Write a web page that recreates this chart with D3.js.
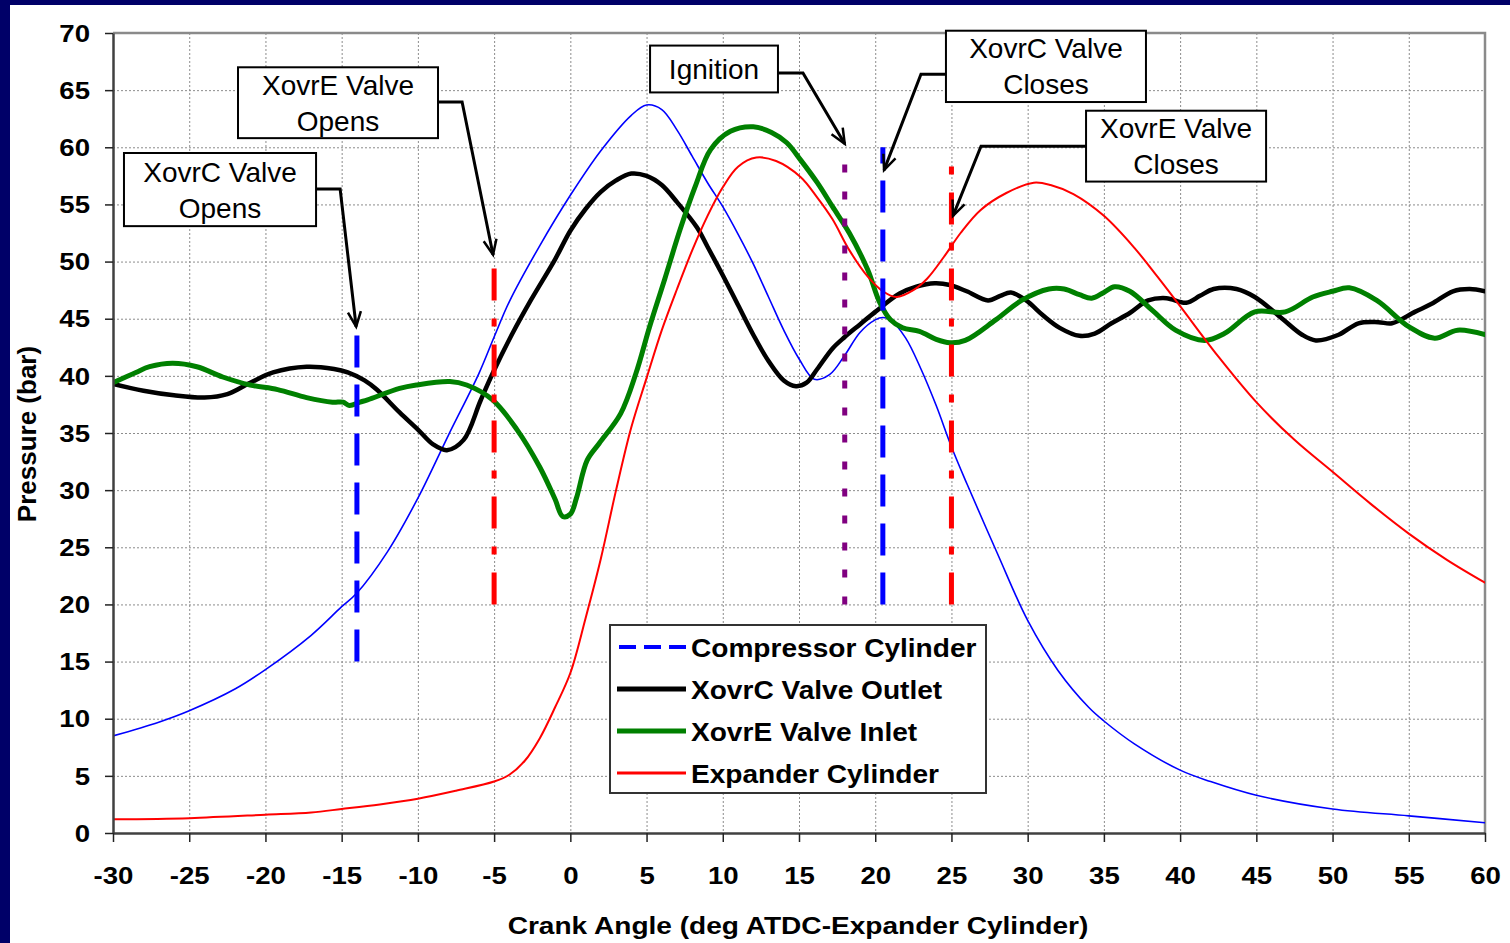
<!DOCTYPE html>
<html><head><meta charset="utf-8">
<script src="https://cdn.jsdelivr.net/npm/d3@7"></script>
<style>
html,body{margin:0;padding:0;background:#fff;}
svg{display:block;}
</style></head><body>
<svg id="chart" width="1510" height="943"></svg>
<script>
// ---------------- DATA ----------------
const xTickValues = [-30,-25,-20,-15,-10,-5,0,5,10,15,20,25,30,35,40,45,50,55,60];
const yTickValues = [0,5,10,15,20,25,30,35,40,45,50,55,60,65,70];

const seriesNames = ["Compressor Cylinder","XovrC Valve Outlet","XovrE Valve Inlet","Expander Cylinder"];

const compAngle = [-30,-27,-25,-22,-20,-17,-15,-14,-12,-10,-8,-6,-5,-4,-2,0,2,4,5,6,7,8,9,10,11,12,13,14,15,16,17,18,19,20,20.5,21,22,23,24,25,26,28,30,32,34,35,37,40,42,45,50,55,60];
const compPressure = [8.5,9.7,10.7,12.6,14.3,17.3,19.8,21.0,24.6,29.3,34.8,40.2,43.4,46.5,51.4,55.8,59.7,62.8,63.7,63.3,61.5,59.2,56.9,54.8,52.4,49.8,46.9,44.0,41.5,39.7,40.1,41.8,43.8,44.9,45.1,44.9,43.3,40.6,37.4,33.8,30.6,24.5,18.6,14.2,11.0,9.8,7.8,5.5,4.5,3.3,2.1,1.5,0.9];

const xovrCAngle = [-30,-28,-26,-24,-22.5,-21,-19.5,-17.3,-15.5,-14.6,-13.5,-12.7,-11.2,-10,-9,-8.1,-7,-5.9,-5.1,-3.8,-2.6,-1,0,1,2,3,4,5,6,7,8.3,9,10,11,12,13,14,14.8,15.5,16.2,17.2,18,19,20,21.6,22.7,23.9,24.9,26,27.4,28.2,28.9,29.9,31,32.1,33.4,34.4,35.5,36.7,37.9,39.1,40.4,41.3,42.2,43.7,44.9,46.7,48,48.9,50.4,51.7,53,53.9,55.4,56.5,57.9,59,60];
const xovrCPressure = [39.3,38.7,38.3,38.1,38.4,39.4,40.3,40.8,40.6,40.3,39.6,38.8,36.8,35.3,34.0,33.5,34.4,37.8,40.2,43.7,46.6,50.2,52.7,54.6,56.1,57.1,57.7,57.5,56.7,55.2,53.0,51.3,48.8,46.2,43.6,41.3,39.6,39.1,39.4,40.6,42.4,43.4,44.5,45.6,47.2,47.8,48.1,47.95,47.4,46.6,47.0,47.3,46.6,45.3,44.2,43.5,43.7,44.6,45.5,46.6,46.8,46.4,47.0,47.6,47.6,46.9,45.0,43.6,43.1,43.6,44.6,44.7,44.6,45.6,46.3,47.4,47.6,47.4];

const xovrEAngle = [-30,-28.5,-27.6,-26.1,-24.5,-22.8,-21,-19.2,-17.3,-15.6,-14.9,-14.5,-13.8,-13.3,-11.2,-10.1,-7.9,-6.8,-5.1,-3.5,-2,-1,-0.5,0,0.4,1.1,1.9,3.3,4.3,5.2,6.2,7.2,8.2,9.2,10.5,12,13.2,14.2,15.1,16.2,17.2,18.3,19.5,20.3,21,21.8,22.9,24,24.9,25.9,27.9,29.6,31.4,32.4,33.4,34.2,35,35.7,36.7,38.2,39.7,41.6,42.9,44.9,46.9,48.7,50,51.1,52.9,55,56.7,58.2,60];
const xovrEPressure = [39.4,40.3,40.8,41.1,40.8,39.9,39.2,38.8,38.1,37.7,37.7,37.4,37.7,37.9,38.9,39.2,39.5,39.2,37.9,35.3,32.0,29.2,27.7,27.9,29.3,32.6,34.1,36.7,40.2,44.3,48.5,52.8,56.6,59.8,61.4,61.8,61.3,60.4,58.9,56.9,54.8,52.5,49.3,46.4,44.9,44.2,43.9,43.2,42.9,43.1,44.9,46.6,47.6,47.6,47.1,46.8,47.3,47.8,47.4,45.7,44.0,43.1,43.7,45.6,45.6,46.9,47.4,47.7,46.6,44.3,43.3,44.0,43.6];

const expAngle = [-30,-25,-20,-17,-15,-12.5,-10,-7.5,-5,-4,-3,-2,-1,0,1,2,3,4,5,6,7,8,9,10,11,12.2,13.5,15.1,16.2,17.2,18.3,19.5,20.5,21.4,22.5,23.4,24.5,25.6,26.9,28.6,30.4,31.5,33,35,37,38.5,40,42.5,45,47.5,50,52.5,55,57.5,60];
const expPressure = [1.2,1.3,1.6,1.8,2.1,2.5,3.0,3.7,4.5,5.1,6.3,8.3,11.0,14.0,18.8,24.0,30.0,35.5,39.8,44.0,47.6,51.0,54.0,56.5,58.3,59.1,58.8,57.4,55.6,53.7,51.0,48.7,47.4,46.9,47.5,48.5,50.4,52.5,54.5,56.0,56.9,56.7,55.9,54.0,51.2,48.7,46.1,41.7,37.7,34.4,31.6,28.8,26.2,23.9,21.9];

// event markers (vertical lines)
const markerAngle = [-14, -5, 18, 20.5, 25];
const markerLow   = [15, 20, 20, 20, 20];
const markerHigh  = [44, 50, 58.5, 60, 58.5];
const markerKind  = ["xovrC","xovrE","ignition","xovrC","xovrE"];

// callouts
const calloutText = [["XovrC Valve","Opens"],["XovrE Valve","Opens"],["Ignition"],["XovrC Valve","Closes"],["XovrE Valve","Closes"]];

// ---------------- LAYOUT / STYLE ----------------
const W = 1510, H = 943;
const plot = {left:113, right:1485, top:33, bottom:833};
const FONT = '"Liberation Sans", Arial, Helvetica, sans-serif';
const NAVY = '#000068';
const SX = 1.15;

// callout geometry in data units: [x0, x1, yTop, yBottom] and leader path
const calloutBox = [[-29.28,-16.68,59.5,53.1],[-21.8,-8.68,67.0,60.8],[5.23,13.62,68.9,64.8],[24.64,37.76,70.2,63.96],[33.83,45.64,63.2,57.0]];
const calloutPath = [
  [[-16.68,56.35],[-15.1,56.35],[-14.05,44.3]],
  [[-8.68,63.96],[-7.1,63.96],[-5.07,50.6]],
  [[13.62,66.5],[15.26,66.5],[18.0,60.3]],
  [[24.64,66.4],[23.0,66.4],[20.58,58.0]],
  [[33.83,60.1],[26.94,60.1],[25.1,54.0]]
];

const markerStyle = {
  xovrC:{color:'#0000ff', dash:'32,17'},
  xovrE:{color:'#ff0000', dash:'32,18,8,18'},
  ignition:{color:'#800080', dash:'8,19'}
};

const seriesStyle = [
  {color:'#0000ff', width:1.6, legendWidth:4, legendDash:'17,8'},
  {color:'#000000', width:4.5, legendWidth:5, legendDash:null},
  {color:'#008000', width:5, legendWidth:5, legendDash:null},
  {color:'#ff0000', width:2, legendWidth:3, legendDash:null}
];
const seriesData = [
  d3.zip(compAngle, compPressure),
  d3.zip(xovrCAngle, xovrCPressure),
  d3.zip(xovrEAngle, xovrEPressure),
  d3.zip(expAngle, expPressure)
];

// ---------------- DRAW ----------------
const x = d3.scaleLinear().domain([-30,60]).range([plot.left, plot.right]);
const y = d3.scaleLinear().domain([0,70]).range([plot.bottom, plot.top]);
const svg = d3.select('#chart');

svg.append('rect').attr('width',W).attr('height',H).attr('fill','#fff');
svg.append('rect').attr('x',0).attr('y',0).attr('width',W).attr('height',5).attr('fill',NAVY);
svg.append('rect').attr('x',0).attr('y',0).attr('width',10).attr('height',H).attr('fill',NAVY);

const defs = svg.append('defs');
defs.append('clipPath').attr('id','plotclip').append('rect')
  .attr('x',plot.left).attr('y',plot.top).attr('width',plot.right-plot.left).attr('height',plot.bottom-plot.top);
defs.append('marker').attr('id','arrow').attr('markerUnits','userSpaceOnUse')
  .attr('viewBox','-20 -10 24 20').attr('refX',0).attr('refY',0)
  .attr('markerWidth',24).attr('markerHeight',20).attr('orient','auto')
  .append('path').attr('d','M-15,-6.5L0,0L-15,6.5').attr('fill','none')
  .attr('stroke','#000').attr('stroke-width',2.5);

// grid
const grid = svg.append('g');
grid.selectAll('line.gv').data(xTickValues).join('line').attr('class','gv')
  .attr('x1',d=>x(d)+0.5).attr('x2',d=>x(d)+0.5).attr('y1',plot.top).attr('y2',plot.bottom)
  .attr('stroke','#8c8c8c').attr('stroke-width',1).attr('stroke-dasharray','2,2');
grid.selectAll('line.gh').data(yTickValues).join('line').attr('class','gh')
  .attr('y1',d=>y(d)+0.5).attr('y2',d=>y(d)+0.5).attr('x1',plot.left).attr('x2',plot.right)
  .attr('stroke','#8c8c8c').attr('stroke-width',1).attr('stroke-dasharray','2,2');

// top & right border
svg.append('path').attr('d',`M${plot.left},${plot.top}H${plot.right}V${plot.bottom}`)
  .attr('fill','none').attr('stroke','#8a8a8a').attr('stroke-width',2.5);

// series
const line = d3.line().x(d=>x(d[0])).y(d=>y(d[1])).curve(d3.curveCatmullRom.alpha(0.5));
const gSeries = svg.append('g').attr('clip-path','url(#plotclip)');
gSeries.selectAll('path').data(seriesData).join('path')
  .attr('d',line).attr('fill','none')
  .attr('stroke',(d,i)=>seriesStyle[i].color)
  .attr('stroke-width',(d,i)=>seriesStyle[i].width)
  .attr('stroke-linejoin','round').attr('stroke-linecap','round');

// event markers
const markers = d3.range(markerAngle.length).map(i=>({a:markerAngle[i], lo:markerLow[i], hi:markerHigh[i], k:markerKind[i]}));
svg.append('g').selectAll('line').data(markers).join('line')
  .attr('x1',d=>x(d.a)).attr('x2',d=>x(d.a))
  .attr('y1',d=>y(d.lo)).attr('y2',d=>y(d.hi))
  .attr('stroke',d=>markerStyle[d.k].color).attr('stroke-width',5)
  .attr('stroke-dasharray',d=>markerStyle[d.k].dash);

// axes
const fmt = d => String(d);
const gy = svg.append('g').attr('transform',`translate(${plot.left},0)`)
  .call(d3.axisLeft(y).tickValues(yTickValues).tickFormat(fmt).tickSize(8).tickSizeOuter(0));
gy.select('.domain').attr('stroke','#404040').attr('stroke-width',2.5);
gy.selectAll('.tick line').attr('stroke','#222').attr('stroke-width',1.5);
gy.selectAll('.tick text').attr('x',-23/SX).attr('dy','0.34em')
  .attr('transform',`scale(${SX},1)`)
  .attr('font-size',24).attr('font-weight','bold').attr('font-family',FONT).attr('fill','#000');

const gx = svg.append('g').attr('transform',`translate(0,${plot.bottom})`)
  .call(d3.axisBottom(x).tickValues(xTickValues).tickFormat(fmt).tickSize(9).tickSizeOuter(0));
gx.select('.domain').attr('stroke','#404040').attr('stroke-width',2.5);
gx.selectAll('.tick line').attr('stroke','#222').attr('stroke-width',1.5);
gx.selectAll('.tick text').attr('y',51).attr('dy',0)
  .attr('transform',`scale(${SX},1)`)
  .attr('font-size',24).attr('font-weight','bold').attr('font-family',FONT).attr('fill','#000');

// axis titles
svg.append('text').attr('transform',`translate(798,934) scale(1.17,1)`)
  .attr('text-anchor','middle').attr('font-family',FONT).attr('font-weight','bold').attr('font-size',24)
  .text('Crank Angle (deg ATDC-Expander Cylinder)');
svg.append('text').attr('transform','translate(36,434) rotate(-90)')
  .attr('text-anchor','middle').attr('font-family',FONT).attr('font-weight','bold').attr('font-size',26)
  .text('Pressure (bar)');

// callouts
const callouts = calloutText.map((t,i)=>({t, b:calloutBox[i], p:calloutPath[i]}));
const gC = svg.append('g');
const leader = d3.line().x(d=>x(d[0])).y(d=>y(d[1]));
gC.selectAll('path.leader').data(callouts).join('path').attr('class','leader')
  .attr('d',d=>leader(d.p)).attr('fill','none').attr('stroke','#000').attr('stroke-width',3)
  .attr('stroke-linejoin','miter').attr('marker-end','url(#arrow)');
const boxes = gC.selectAll('g.box').data(callouts).join('g').attr('class','box');
boxes.append('rect')
  .attr('x',d=>x(d.b[0])).attr('y',d=>y(d.b[2]))
  .attr('width',d=>x(d.b[1])-x(d.b[0])).attr('height',d=>y(d.b[3])-y(d.b[2]))
  .attr('fill','#fff').attr('stroke','#000').attr('stroke-width',2);
boxes.each(function(d){
  const cx = (x(d.b[0])+x(d.b[1]))/2, cy = (y(d.b[2])+y(d.b[3]))/2;
  const n = d.t.length;
  d3.select(this).selectAll('text').data(d.t).join('text')
    .attr('x',cx).attr('y',(s,j)=>cy + (j-(n-1)/2)*36 + 10)
    .attr('text-anchor','middle').attr('font-family',FONT).attr('font-size',28).attr('fill','#000')
    .text(s=>s);
});

// legend
const lg = svg.append('g');
lg.append('rect').attr('x',610).attr('y',625).attr('width',376).attr('height',168)
  .attr('fill','#fff').attr('stroke','#333').attr('stroke-width',2);
const rows = lg.selectAll('g.row').data(seriesNames).join('g').attr('class','row')
  .attr('transform',(d,i)=>`translate(0,${647+i*42})`);
rows.append('line').attr('x1',(d,i)=>i===0?619:617).attr('x2',686).attr('y1',0).attr('y2',0)
  .attr('stroke',(d,i)=>seriesStyle[i].color).attr('stroke-width',(d,i)=>seriesStyle[i].legendWidth)
  .attr('stroke-dasharray',(d,i)=>seriesStyle[i].legendDash);
rows.append('text').attr('transform','translate(691,9.5) scale(1.08,1)')
  .attr('font-family',FONT).attr('font-weight','bold').attr('font-size',26).attr('fill','#000')
  .text(d=>d);
</script>
</body></html>
